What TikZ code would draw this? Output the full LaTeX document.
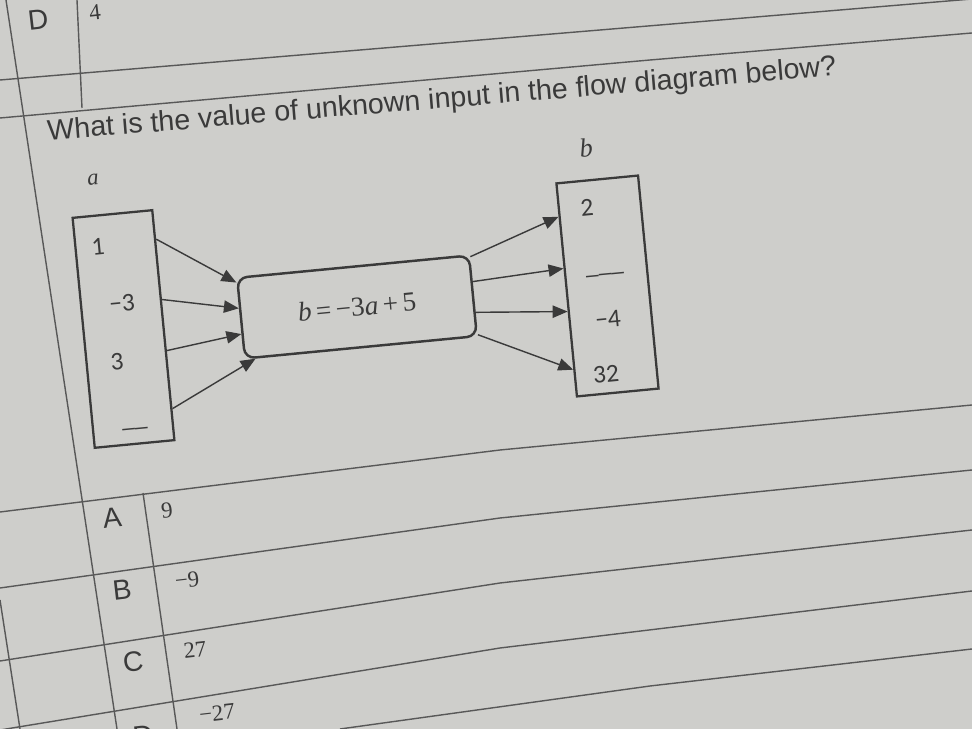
\documentclass[tikz,border=0pt]{standalone}
\usepackage{fontspec}
\setmainfont{Liberation Serif}
\newfontfamily\sansfont{Liberation Sans}
\newfontfamily\boxfont{Carlito}
\usetikzlibrary{arrows.meta}
\usetikzlibrary{calc}
\definecolor{paper}{RGB}{206,206,203}
\definecolor{ink}{RGB}{58,58,58}

\begin{document}
\begin{tikzpicture}
      [
        x=0.2mm, y=-0.2mm,
        rule/.style = {draw=ink!85, line width=0.8pt},
        valbox/.style = {draw=ink, line width=1.3pt, rotate=5.5, minimum width=16mm, inner sep=0pt},
        funbox/.style = {draw=ink, line width=1.4pt, rounded corners=2mm, rotate=5.5, minimum width=46.6mm, minimum height=16.2mm},
        flow/.style = {draw=ink, line width=0.8pt, -{Triangle[length=8.5pt,width=7pt]}},
        val/.style = {text=ink, rotate=5.5, font=\boxfont\fontsize{14.5}{16}\selectfont},
        choice/.style = {text=ink, rotate=6.5, font=\sansfont\fontsize{16}{18}\selectfont},
        answer/.style = {text=ink, rotate=6.5, font=\fontsize{13}{15}\selectfont}
      ]

      \fill[paper] (0,0) rectangle (972,729);
      \useasboundingbox (0,0) rectangle (972,729);

      % table rules
      \draw[rule] (0,80) -- (972,-1);
      \draw[rule] (0,118) -- (650,60) -- (972,33);
      \draw[rule] (6,0) -- (117,729);
      \draw[rule] (77,0) -- (82,108);
      \draw[rule] (0,512) -- (500,450) -- (972,405);
      \draw[rule] (0,588) -- (500,518) -- (972,470);
      \draw[rule] (0,661) -- (500,583) -- (972,530);
      \draw[rule] (0,730) -- (500,648) -- (972,591);
      \draw[rule] (340,729) -- (650,686) -- (972,649);
      \draw[rule] (0,600) -- (20,729);
      \draw[rule] (143,493) -- (177,729);

      \node[choice] (prevD) at (38,20) {D};
      \node[answer] (prevval) at (95,12) {4};

      \node[anchor=base west, rotate=4.7, text=ink, font=\sansfont\fontsize{16.3}{18}\selectfont] (question) at (42,141) {What is the value of unknown input in the flow diagram below?};

      \node[text=ink, rotate=5.5, font=\itshape\fontsize{13}{15}\selectfont] (alabel) at (93,180) {a};
      \node[text=ink, rotate=5.5, font=\itshape\fontsize{15}{17}\selectfont] (blabel) at (586,148) {b};

      \node[valbox, minimum height=46.2mm] (abox) at (123.5,329) {};
      \node[valbox, minimum width=16.4mm, minimum height=42.8mm] (bbox) at (607.5,286) {};
      \node[funbox, text=ink, font=\fontsize{15.5}{18}\selectfont] (func) at (357,307) {\textit{b}\,=\,−3\textit{a}\,+\,5};

      \node[val] (a1) at (98,247) {1};
      \node[val] (a2) at (122,303) {−3};
      \node[val] (a3) at (117,362) {3};
      \node[val] (a4) at (135,428) {\_\_};

      \node[val] (b1) at (587,208) {2};
      \node[val] (b2) at (605,274) {\_\_\_};
      \node[val] (b3) at (608,319) {−4};
      \node[val] (b4) at (606,374) {32};

      \draw[flow] ($(abox.north east)!0.13!(abox.south east)$) -- ($(func.north west)!0.07!(func.south west)$);
      \draw[flow] ($(abox.north east)!0.39!(abox.south east)$) -- ($(func.north west)!0.38!(func.south west)$);
      \draw[flow] ($(abox.north east)!0.61!(abox.south east)$) -- ($(func.north west)!0.69!(func.south west)$);
      \draw[flow] ($(abox.north east)!0.86!(abox.south east)$) -- ($(func.south west)!0.05!(func.south east)$);

      \draw[flow] ($(func.north east)!0.03!(func.south east)$) -- ($(bbox.north west)!0.16!(bbox.south west)$);
      \draw[flow] ($(func.north east)!0.33!(func.south east)$) -- ($(bbox.north west)!0.40!(bbox.south west)$);
      \draw[flow] ($(func.north east)!0.70!(func.south east)$) -- ($(bbox.north west)!0.60!(bbox.south west)$);
      \draw[flow] ($(func.north east)!0.97!(func.south east)$) -- ($(bbox.north west)!0.87!(bbox.south west)$);

      \node[choice] (optA) at (112,518) {A};
      \node[answer] (valA) at (167,510) {9};
      \node[choice] (optB) at (122,590) {B};
      \node[answer] (valB) at (187,580) {−9};
      \node[choice] (optC) at (133,662) {C};
      \node[answer] (valC) at (195,650) {27};
      \node[choice] (optD) at (143,736) {D};
      \node[answer] (valD) at (217,713) {−27};

    \end{tikzpicture}
\end{document}
